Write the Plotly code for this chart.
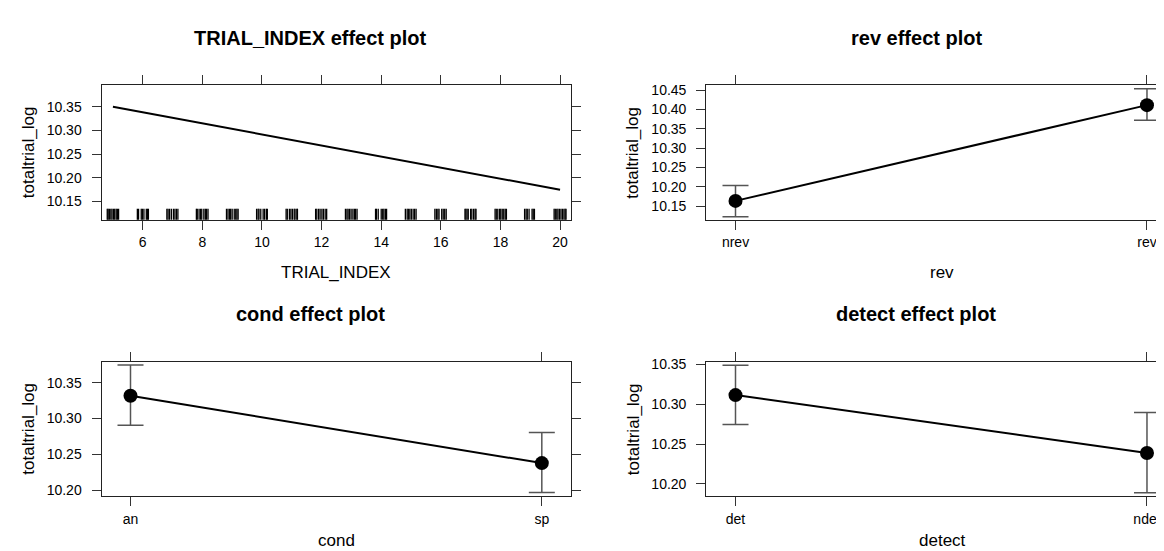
import plotly.graph_objects as go

# ---------------- data ----------------
trial_x = [5, 20]
trial_fit = [10.350, 10.1745]
trial_rug = [
    4.81, 4.84, 4.88, 4.93, 4.97, 5.02, 5.06, 5.11, 5.15, 5.19,
    5.82, 5.86, 5.95, 5.99, 6.04, 6.12, 6.16, 6.19,
    6.81, 6.85, 6.90, 6.96, 7.03, 7.08, 7.13, 7.18,
    7.80, 7.83, 7.89, 7.94, 7.98, 8.05, 8.10, 8.14, 8.19,
    8.81, 8.86, 8.91, 8.95, 9.00, 9.07, 9.12, 9.16, 9.20,
    9.82, 9.87, 9.90, 9.96, 10.04, 10.09, 10.15, 10.18,
    10.81, 10.85, 10.92, 10.97, 11.02, 11.08, 11.11, 11.17, 11.19,
    11.80, 11.84, 11.90, 11.95, 12.01, 12.06, 12.12, 12.17,
    12.80, 12.85, 12.89, 12.94, 12.99, 13.05, 13.10, 13.14, 13.19,
    13.81, 13.84, 13.90, 14.00, 14.05, 14.09, 14.14, 14.18,
    14.81, 14.87, 14.91, 14.96, 15.01, 15.07, 15.12, 15.17,
    15.80, 15.85, 15.90, 15.94, 16.03, 16.08, 16.13, 16.18,
    16.81, 16.84, 16.88, 16.92, 17.00, 17.04, 17.10, 17.15, 17.18,
    17.82, 17.86, 17.91, 17.97, 18.01, 18.06, 18.11, 18.16, 18.20,
    18.81, 18.86, 18.90, 18.96, 19.06, 19.10, 19.14,
    19.80, 19.84, 19.89, 19.93, 19.98, 20.03, 20.08, 20.13, 20.17, 20.20,
]
trial_xticks = [6, 8, 10, 12, 14, 16, 18, 20]
trial_yticks = [10.15, 10.20, 10.25, 10.30, 10.35]

rev_levels = ["nrev", "rev"]
rev_fit = [10.164, 10.411]
rev_lower = [10.123, 10.372]
rev_upper = [10.204, 10.453]
rev_yticks = [10.15, 10.20, 10.25, 10.30, 10.35, 10.40, 10.45]

cond_levels = ["an", "sp"]
cond_fit = [10.3317, 10.2377]
cond_lower = [10.2905, 10.1967]
cond_upper = [10.3745, 10.2805]
cond_yticks = [10.20, 10.25, 10.30, 10.35]

detect_levels = ["det", "ndet"]
detect_fit = [10.3115, 10.2388]
detect_lower = [10.2747, 10.1888]
detect_upper = [10.349, 10.2896]
detect_yticks = [10.20, 10.25, 10.30, 10.35]

# ---------------- layout geometry ----------------
W, H = 1164, 551
FONT = "Liberation Sans, Arial, sans-serif"
LINE = "#222222"
TICK = "#333333"
ERR = "#555555"


def px(x):
    return x / W


def py(y):
    return 1 - y / H


left_dom = [px(93.5), px(563.1)]
right_dom = [px(698.2), 1.0]
top_dom = [py(209.3), py(73.3)]
bot_dom = [py(489.3), py(353.3)]

fig = go.Figure()

# TRIAL_INDEX panel
fig.add_trace(go.Scatter(x=trial_x, y=trial_fit, mode="lines",
                         line=dict(color="black", width=2),
                         xaxis="x", yaxis="y", showlegend=False))


def effect_trace(levels, fit, lo, hi, xa, ya):
    return go.Scatter(
        x=levels, y=fit, mode="lines+markers",
        line=dict(color="black", width=2),
        marker=dict(color="black", size=14),
        error_y=dict(type="data", symmetric=False,
                     array=[h - f for h, f in zip(hi, fit)],
                     arrayminus=[f - l for f, l in zip(fit, lo)],
                     color=ERR, thickness=1.5, width=13),
        xaxis=xa, yaxis=ya, showlegend=False)


fig.add_trace(effect_trace(rev_levels, rev_fit, rev_lower, rev_upper, "x2", "y2"))
fig.add_trace(effect_trace(cond_levels, cond_fit, cond_lower, cond_upper, "x3", "y3"))
fig.add_trace(effect_trace(detect_levels, detect_fit, detect_lower, detect_upper, "x4", "y4"))

# rug marks
shapes = []
for v in trial_rug:
    shapes.append(dict(type="line", xref="x", yref="y domain",
                       x0=v, x1=v, y0=0, y1=0.081,
                       line=dict(color="black", width=1.3)))

axis_common = dict(showline=True, linecolor=LINE, linewidth=1,
                   ticks="outside", ticklen=9, tickcolor=TICK, tickwidth=1,
                   showgrid=False, zeroline=False,
                   tickfont=dict(family=FONT, size=14, color="black"))

layout = dict(
    width=W, height=H,
    margin=dict(l=0, r=0, t=0, b=0),
    paper_bgcolor="white", plot_bgcolor="white",
    shapes=shapes,
    xaxis=dict(domain=left_dom, anchor="y", range=[4.617, 20.37],
               tickvals=trial_xticks, mirror="allticks", **axis_common),
    yaxis=dict(domain=top_dom, anchor="x", range=[10.111, 10.3955],
               tickvals=trial_yticks, tickformat=".2f", mirror="allticks",
               **axis_common),
    xaxis2=dict(domain=right_dom, anchor="y2", type="category",
                range=[-0.0712, 1.0608], mirror="allticks", **axis_common),
    yaxis2=dict(domain=top_dom, anchor="x2", range=[10.1156, 10.462],
                tickvals=rev_yticks, tickformat=".2f", mirror=False,
                **axis_common),
    xaxis3=dict(domain=left_dom, anchor="y3", type="category",
                range=[-0.0705, 1.0712], mirror="allticks", **axis_common),
    yaxis3=dict(domain=bot_dom, anchor="x3", range=[10.1917, 10.379],
                tickvals=cond_yticks, tickformat=".2f", mirror="allticks",
                **axis_common),
    xaxis4=dict(domain=right_dom, anchor="y4", type="category",
                range=[-0.0712, 1.0608], mirror="allticks", **axis_common),
    yaxis4=dict(domain=bot_dom, anchor="x4", range=[10.1847, 10.3533],
                tickvals=detect_yticks, tickformat=".2f", mirror=False,
                **axis_common),
)
fig.update_layout(**layout)
for ax in ["yaxis", "yaxis2", "yaxis3", "yaxis4"]:
    fig.layout[ax].ticklabelstandoff = 7
for ax in ["xaxis", "xaxis2", "xaxis3", "xaxis4"]:
    fig.layout[ax].ticklabelstandoff = 1

annotations = []


def label(text, x, y, size, bold=False, angle=0, yanchor="middle"):
    annotations.append(dict(
        text=f"<b>{text}</b>" if bold else text,
        x=px(x), y=py(y), xref="paper", yref="paper",
        xanchor="center", yanchor=yanchor, showarrow=False,
        textangle=angle, font=dict(family=FONT, size=size, color="black")))


label("TRIAL_INDEX effect plot", 302.5, 25, 20, bold=True)
label("rev effect plot", 908.5, 25, 20, bold=True)
label("cond effect plot", 302.5, 305, 20, bold=True)
label("detect effect plot", 908, 305, 20, bold=True)

label("TRIAL_INDEX", 328, 263, 17)
label("rev", 934, 263, 17)
label("cond", 328, 546, 17, yanchor="bottom")
label("detect", 934, 546, 17, yanchor="bottom")

label("totaltrial_log", 20.5, 141.5, 17, angle=-90)
label("totaltrial_log", 625, 141.5, 17, angle=-90)
label("totaltrial_log", 20.5, 421.5, 17, angle=-90)
label("totaltrial_log", 625, 421.5, 17, angle=-90)

fig.update_layout(annotations=annotations)

fig.write_html("out.html")
